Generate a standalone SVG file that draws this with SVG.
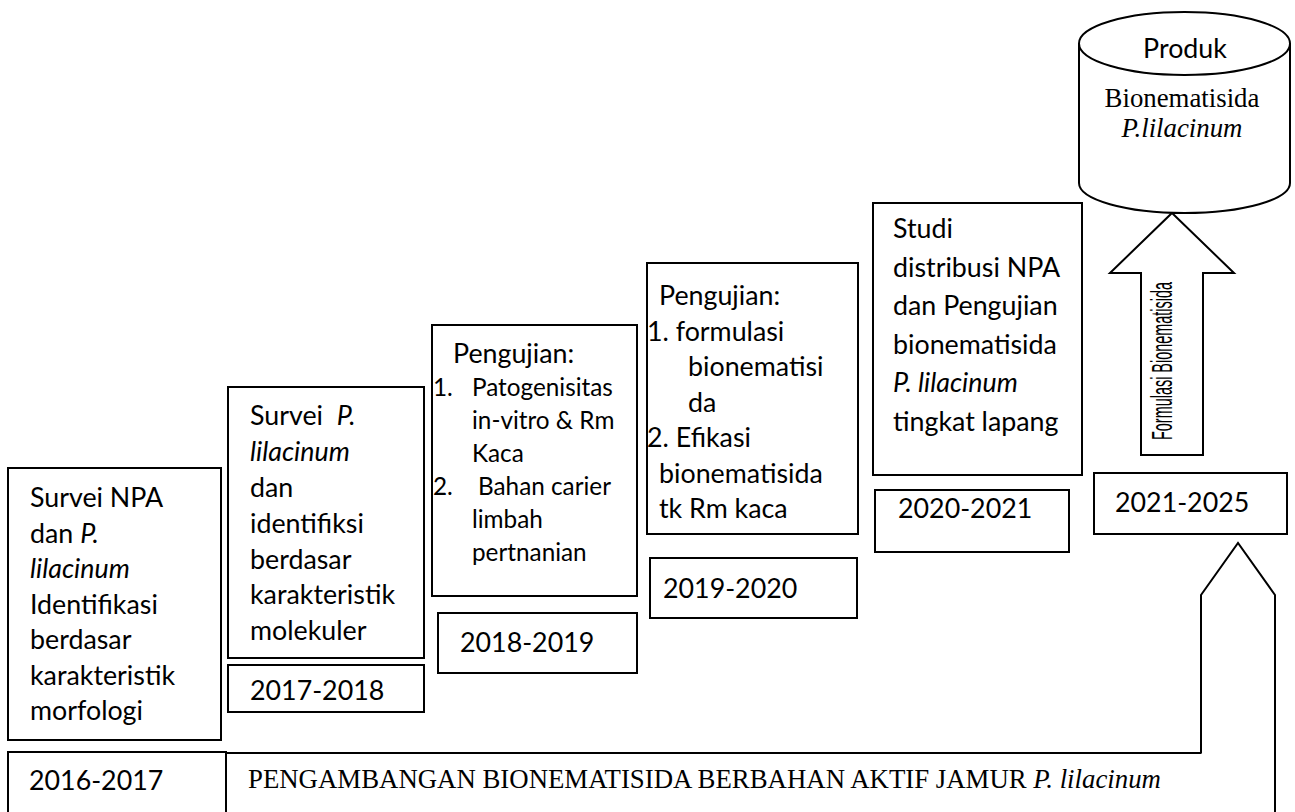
<svg xmlns="http://www.w3.org/2000/svg" width="1295" height="812" viewBox="0 0 1295 812">
<style>
.b{fill:#fff;stroke:#000;stroke-width:2}
.s{font-family:Lato,"Liberation Sans",sans-serif;font-size:26.8px;fill:#000}
.ss{font-family:Lato,"Liberation Sans",sans-serif;font-size:24.3px;fill:#000}
.t{font-family:"Liberation Serif","Times New Roman",serif;font-size:26.8px;fill:#000}
.i{font-style:italic}
</style>
<rect width="1295" height="812" fill="#fff"/>
<g id="connectors">
<polygon class="b" points="1172,213 1234,273 1203,273 1203,455 1141,455 1141,273 1110,273"/>
<text font-family="Liberation Sans,sans-serif" font-size="30" textLength="158" lengthAdjust="spacingAndGlyphs" text-anchor="middle" transform="translate(1172,361) rotate(-90)">Formulasi Bionematisida</text>
</g>
<g id="produk">
<path class="b" d="M1079,43 L1079,183 A105.5,30 0 0 0 1290,183 L1290,43"/>
<ellipse class="b" cx="1184.5" cy="43.5" rx="105.5" ry="31.5"/>
<text class="s" x="1185" y="58" text-anchor="middle">Produk</text>
<text class="t" x="1182" y="107" text-anchor="middle">Bionematisida</text>
<text class="t i" x="1182" y="137" text-anchor="middle">P.lilacinum</text>
</g>
<g id="n2016">
<rect class="b" x="8" y="468" width="213" height="272"/>
<text class="s" x="30" y="507">Survei NPA</text>
<text class="s" x="30" y="543">dan <tspan class="i">P.</tspan></text>
<text class="s i" x="30" y="578">lilacinum</text>
<text class="s" x="30" y="614">Identifikasi</text>
<text class="s" x="30" y="649">berdasar</text>
<text class="s" x="30" y="685">karakteristik</text>
<text class="s" x="30" y="720">morfologi</text>
</g>
<g id="y2016">
<rect class="b" x="8" y="752" width="218" height="80"/>
<text class="s" x="29" y="790">2016-2017</text>
</g>
<g id="bar">
<rect class="b" x="226" y="753" width="1048" height="80"/>
<text class="t" x="248" y="788">PENGAMBANGAN BIONEMATISIDA BERBAHAN AKTIF JAMUR <tspan class="i">P. lilacinum</tspan></text>
</g>
<g id="n2017">
<rect class="b" x="228" y="387" width="196" height="271"/>
<text class="s" x="250" y="425" xml:space="preserve">Survei  <tspan class="i">P.</tspan></text>
<text class="s i" x="250" y="461">lilacinum</text>
<text class="s" x="250" y="497">dan</text>
<text class="s" x="250" y="533">identifiksi</text>
<text class="s" x="250" y="569">berdasar</text>
<text class="s" x="250" y="604">karakteristik</text>
<text class="s" x="250" y="640">molekuler</text>
</g>
<g id="y2017">
<rect class="b" x="228" y="665" width="196" height="47"/>
<text class="s" x="250" y="700">2017-2018</text>
</g>
<g id="n2018">
<rect class="b" x="432" y="325" width="205" height="271"/>
<text class="s" x="453" y="363">Pengujian:</text>
<text class="ss" x="433" y="396">1.</text>
<text class="ss" x="472" y="396">Patogenisitas</text>
<text class="ss" x="472" y="429">in-vitro &amp; Rm</text>
<text class="ss" x="472" y="462">Kaca</text>
<text class="ss" x="433" y="495">2.</text>
<text class="ss" x="478" y="495">Bahan carier</text>
<text class="ss" x="472" y="528">limbah</text>
<text class="ss" x="472" y="561">pertnanian</text>
</g>
<g id="y2018">
<rect class="b" x="438" y="613" width="199" height="60"/>
<text class="s" x="460" y="652">2018-2019</text>
</g>
<g id="n2019">
<rect class="b" x="647" y="263" width="211" height="271"/>
<text class="s" x="659" y="305">Pengujian:</text>
<text class="s" x="647" y="341">1. formulasi</text>
<text class="s" x="688" y="376">bionematisi</text>
<text class="s" x="688" y="412">da</text>
<text class="s" x="647" y="447">2. Efikasi</text>
<text class="s" x="659" y="483">bionematisida</text>
<text class="s" x="659" y="518">tk Rm kaca</text>
</g>
<g id="y2019">
<rect class="b" x="650" y="558" width="207" height="60"/>
<text class="s" x="663" y="598">2019-2020</text>
</g>
<g id="n2020">
<rect class="b" x="873" y="203" width="209" height="272"/>
<text class="s" x="893" y="238">Studi</text>
<text class="s" x="893" y="277">distribusi NPA</text>
<text class="s" x="893" y="315">dan Pengujian</text>
<text class="s" x="893" y="354">bionematisida</text>
<text class="s i" x="893" y="392">P. lilacinum</text>
<text class="s" x="893" y="431">tingkat lapang</text>
</g>
<g id="y2020">
<rect class="b" x="875" y="490" width="194" height="62"/>
<text class="s" x="898" y="518">2020-2021</text>
</g>
<g id="y2021">
<rect class="b" x="1094" y="473" width="193" height="61"/>
<text class="s" x="1115" y="512">2021-2025</text>
</g>
<g id="bottom-arrow">
<path d="M1201,753 L1201,595 L1238,543 L1275,595 L1275,820" fill="#fff" stroke="#000" stroke-width="2"/>
</g>
</svg>
